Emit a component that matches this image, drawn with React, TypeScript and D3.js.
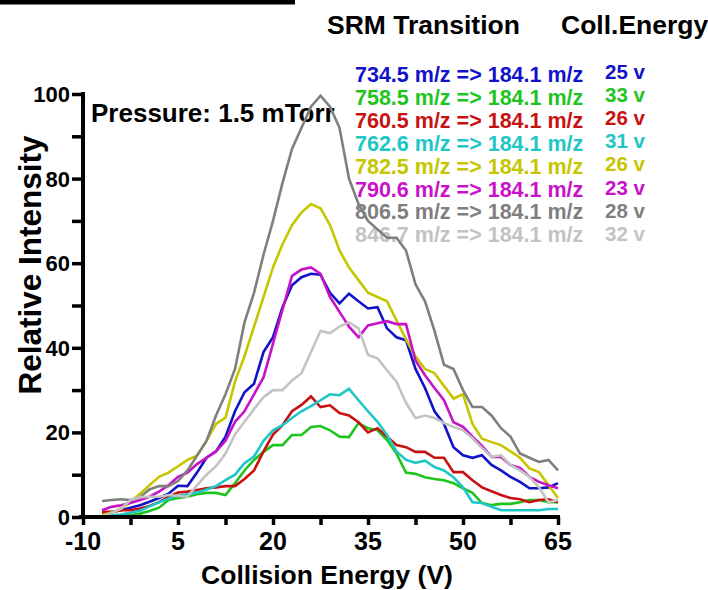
import React, { useEffect, useRef } from 'react'
import * as d3 from 'd3'

// collision energy steps (V)
const energies: number[] = d3.range(49).map(i => -7 + i * 1.5)

const blue734 = [0.7, 1.2, 1.6, 2.2, 2.8, 3.6, 4.5, 5.5, 7.4, 7.3, 10.5, 14, 15.5, 19, 25, 29.5, 31.5, 39, 42.5, 49.6, 54.8, 56.7, 57.5, 57.3, 53, 50.5, 52.8, 51, 49.3, 49.6, 44.6, 42.5, 41.8, 35, 30.5, 25, 22, 16.5, 14.6, 14, 14.6, 12.3, 11, 9.5, 8.3, 6.8, 6.8, 7, 8]
const green758 = [0.4, 0.2, 0.4, 0.4, 0.8, 1.4, 2.2, 4, 4.5, 4.8, 5.4, 5.7, 5.7, 5.2, 8, 11, 13.5, 15.4, 17, 17, 19.4, 19.4, 21.3, 21.5, 20.5, 19, 18.9, 22.2, 21, 20.5, 18.2, 15, 10.5, 10.2, 9.4, 9, 8.7, 8, 6.8, 5.7, 3.3, 2.8, 3.1, 3.1, 3.5, 4, 4, 3.5, 3.5]
const red760 = [1.2, 1.2, 1.6, 1.6, 2, 2.6, 3.5, 4.8, 5.8, 6, 6.4, 6.8, 7, 7.3, 7.3, 9, 11, 15.5, 19.5, 21.7, 25, 26.5, 28.5, 26, 26.4, 24.6, 24, 22.4, 20, 21, 19, 17, 16.5, 15.4, 15.4, 14, 14, 10.6, 10.6, 8.7, 7, 6.1, 5.2, 4.5, 4.2, 3.5, 4, 4.2, 3.5]
const cyan762 = [0.4, 0.4, 0.6, 1, 1.5, 2.5, 3.5, 4.3, 5, 5.4, 5.8, 6.5, 7.3, 8.7, 10, 12.7, 14.3, 18, 20.5, 21.7, 23.4, 25, 26.2, 27.6, 29, 28.8, 30.3, 27.6, 25, 22.5, 19.4, 15.5, 13.5, 12.8, 13.3, 11.8, 11, 9.4, 7, 3.5, 3.3, 2.4, 1.6, 1.6, 1.6, 1.6, 1.6, 1.9, 1.9]
const yellow782 = [0.5, 1, 2, 3.5, 5.5, 7.5, 9.5, 10.5, 12, 13.5, 14.5, 18, 22, 23.5, 32, 38, 45, 52, 59, 64.5, 69, 72, 74, 73, 69, 63, 59, 56, 53, 52, 51, 46.5, 42, 38, 35, 34, 31, 28, 29, 22, 18.5, 17.7, 17, 15.5, 14, 11.5, 10.6, 7.5, 4.5]
const magenta790 = [1.6, 2.4, 2.8, 3.3, 4, 4.8, 6, 7.5, 9.5, 10.5, 12.5, 14, 15.5, 18, 22.5, 25, 29, 33, 41, 49, 57, 58.5, 59, 57.5, 52, 48.5, 45, 42.5, 45.3, 45.8, 46.3, 45.6, 45.6, 37, 33.5, 30.5, 27.6, 22.4, 21.3, 19, 16.8, 14.2, 14.2, 12.3, 11.6, 9.5, 8.3, 7.5, 6.8]
const gray806 = [3.8, 4, 4.2, 4, 4.7, 6.5, 7.3, 7.3, 8.5, 11, 14.5, 18, 24, 29, 35, 46, 53, 62, 70, 79, 87, 92, 97, 99.6, 97, 92, 80, 74, 70, 68, 66, 66, 63, 55, 51, 44, 36, 35, 30, 26, 26, 24, 21, 19, 15, 14, 13, 13.5, 11]
const light846 = [0, 1, 2, 4, 4.7, 4.8, 4.8, 5.2, 5, 4.8, 7.5, 10, 12, 15, 19.5, 22.5, 25.5, 28.3, 30, 30, 32.3, 34, 39, 44, 43.5, 45, 46, 44.6, 38.3, 37.5, 34.7, 32, 27, 23.4, 24, 23.4, 22.2, 21.3, 20.5, 18.6, 16.3, 14.2, 14.6, 12.3, 11, 9.5, 7, 3.5, 4]

const transitions = [
  '734.5 m/z => 184.1 m/z',
  '758.5 m/z => 184.1 m/z',
  '760.5 m/z => 184.1 m/z',
  '762.6 m/z => 184.1 m/z',
  '782.5 m/z => 184.1 m/z',
  '790.6 m/z => 184.1 m/z',
  '806.5 m/z => 184.1 m/z',
  '846.7 m/z => 184.1 m/z',
]
const collEnergies = ['25 v', '33 v', '26 v', '31 v', '26 v', '23 v', '28 v', '32 v']
const seriesValues = [blue734, green758, red760, cyan762, yellow782, magenta790, gray806, light846]
const colors = ['#1212c8', '#1fc41f', '#c81212', '#1fc6c6', '#c6c600', '#c812c8', '#7f7f7f', '#c3c3c3']

const xTickLabels = [-10, 5, 20, 35, 50, 65]
const yTickLabels = [0, 20, 40, 60, 80, 100]

const W = 708
const H = 590

function App() {
  const svgRef = useRef<SVGSVGElement>(null)

  useEffect(() => {
    const svg = d3.select(svgRef.current)
    svg.selectAll('*').remove()

    const font = '"Liberation Sans", Arial, sans-serif'

    const x = d3.scaleLinear().domain([-10, 65]).range([83, 558])
    const y = d3.scaleLinear().domain([0, 100]).range([517, 94])

    // top bar remnant
    svg.append('rect').attr('x', 0).attr('y', 0).attr('width', 295).attr('height', 4.5).attr('fill', '#000')

    // legend headers
    svg.append('text')
      .attr('x', 327).attr('y', 34)
      .style('font-family', font).style('font-weight', 'bold').style('font-size', '26.5px')
      .text('SRM Transition')
    svg.append('text')
      .attr('x', 561).attr('y', 34)
      .style('font-family', font).style('font-weight', 'bold').style('font-size', '26.5px')
      .text('Coll.Energy')

    // legend text sits under the traces
    const legend = svg.append('g')
    legend.selectAll('.tr')
      .data(transitions)
      .enter().append('text')
      .attr('class', 'tr')
      .attr('x', 355)
      .attr('y', (d, i) => 82 + i * 22.9)
      .attr('fill', (d, i) => colors[i])
      .style('font-family', font).style('font-weight', 'bold').style('font-size', '21.5px')
      .text(d => d)
    legend.selectAll('.ce')
      .data(collEnergies)
      .enter().append('text')
      .attr('class', 'ce')
      .attr('x', 605)
      .attr('y', (d, i) => 79 + i * 23.1)
      .attr('fill', (d, i) => colors[i])
      .style('font-family', font).style('font-weight', 'bold').style('font-size', '20.5px')
      .text(d => d)

    svg.append('text')
      .attr('x', 91)
      .attr('y', 122)
      .style('font-family', font)
      .style('font-weight', 'bold')
      .style('font-size', '26px')
      .text('Pressure: 1.5 mTorr')

    // lines
    const line = d3.line<number>()
      .x((d, i) => x(energies[i]))
      .y(d => y(d))

    seriesValues.forEach((vals, k) => {
      svg.append('path')
        .datum(vals)
        .attr('fill', 'none')
        .attr('stroke', colors[k])
        .attr('stroke-width', 2.6)
        .attr('d', line)
    })

    // axes
    const xAxis = svg.append('g')
      .attr('transform', `translate(0,517)`)
      .call(d3.axisBottom(x).tickValues(d3.range(-10, 65.1, 7.5)).tickSize(8).tickSizeOuter(0).tickFormat(() => ''))
    xAxis.select('.domain').attr('stroke-width', 4).attr('d', 'M79,0H560')
    xAxis.selectAll('.tick line').attr('stroke-width', 3.5)

    const yAxis = svg.append('g')
      .attr('transform', `translate(83,0)`)
      .call(d3.axisLeft(y).tickValues(d3.range(0, 100.1, 10)).tickSize(11).tickSizeOuter(0).tickFormat(() => ''))
    yAxis.select('.domain').attr('stroke-width', 4).attr('d', 'M0,519V92')
    yAxis.selectAll('.tick line').attr('stroke-width', 3.5)

    svg.append('g').selectAll('text')
      .data(xTickLabels)
      .enter().append('text')
      .attr('x', d => x(d))
      .attr('y', 550)
      .attr('text-anchor', 'middle')
      .style('font-family', font)
      .style('font-weight', 'bold')
      .style('font-size', '25px')
      .text(d => String(d))

    svg.append('g').selectAll('text')
      .data(yTickLabels)
      .enter().append('text')
      .attr('x', 70)
      .attr('y', d => y(d))
      .attr('dy', '0.36em')
      .attr('text-anchor', 'end')
      .style('font-family', font)
      .style('font-weight', 'bold')
      .style('font-size', '22px')
      .text(d => String(d))

    svg.append('text')
      .attr('x', 327)
      .attr('y', 584)
      .attr('text-anchor', 'middle')
      .style('font-family', font)
      .style('font-weight', 'bold')
      .style('font-size', '26.5px')
      .text('Collision Energy (V)')

    svg.append('text')
      .attr('transform', 'translate(41,265) rotate(-90)')
      .attr('text-anchor', 'middle')
      .style('font-family', font)
      .style('font-weight', 'bold')
      .style('font-size', '31.5px')
      .text('Relative Intensity')
  }, [])

  return (
    <svg
      ref={svgRef}
      width={W}
      height={H}
      style={{ position: 'absolute', left: 0, top: 0, background: '#fff' }}
    />
  )
}

export default App
